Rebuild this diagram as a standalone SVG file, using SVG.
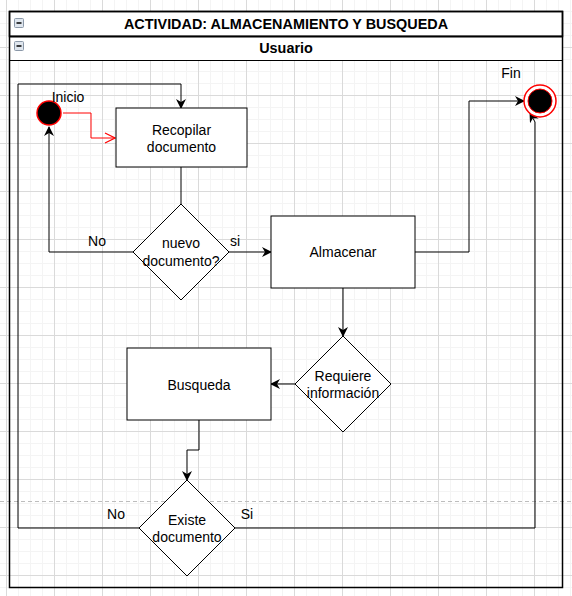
<svg xmlns="http://www.w3.org/2000/svg" width="572" height="596" viewBox="0 0 572 596">
<defs>
<pattern id="minor" x="6" y="-1" width="12" height="12" patternUnits="userSpaceOnUse">
<path d="M0.5,0 V12 M0,0.5 H12" stroke="#f4f4f4" stroke-width="1" fill="none"/>
</pattern>
<pattern id="major" x="6" y="-1" width="48" height="48" patternUnits="userSpaceOnUse">
<path d="M0.5,0 V48 M0,0.5 H48" stroke="#dadada" stroke-width="1" fill="none"/>
</pattern>
<marker id="arr" viewBox="0 0 10 10" refX="9" refY="5" markerWidth="10" markerHeight="10" markerUnits="userSpaceOnUse" orient="auto">
<path d="M0,0 L10,5 L0,10 L3,5 z" fill="#000"/>
</marker>
<marker id="open" viewBox="0 0 12 12" refX="11" refY="6" markerWidth="12" markerHeight="12" markerUnits="userSpaceOnUse" orient="auto">
<path d="M1,1 L11,6 L1,11" fill="none" stroke="#ff0000" stroke-width="1.2"/>
</marker>
</defs>
<style>
text{font-family:"Liberation Sans",Arial,sans-serif;font-size:14px;fill:#000}
.c{text-anchor:middle}
.b{font-weight:bold}
.t{font-size:14.4px}
.node{fill:#fff;stroke:#000;stroke-width:1}
.edge{fill:none;stroke:#000;stroke-width:1}
.icon{fill:#dfe6ee;stroke:#8b98a8;stroke-width:1}
</style>
<rect width="572" height="596" fill="#fff"/>
<rect width="572" height="596" fill="url(#minor)"/>
<rect width="572" height="596" fill="url(#major)"/>
<line x1="0" y1="501.5" x2="572" y2="501.5" stroke="#bdbdbd" stroke-dasharray="4,3"/>

<g id="pool">
<rect x="9.5" y="11.5" width="553" height="25" fill="#fff" stroke="#000" stroke-width="1.5"/>
<rect x="9.5" y="36.5" width="553" height="24" fill="#fff" stroke="#000" stroke-width="1"/>
<rect x="9.5" y="11.5" width="553" height="576" fill="none" stroke="#000" stroke-width="1.5"/>
<line x1="9.5" y1="36.5" x2="562.5" y2="36.5" stroke="#000" stroke-width="2"/>
<rect class="icon" x="14.5" y="18.5" width="9" height="9" rx="1"/>
<line x1="16.5" y1="23" x2="21.5" y2="23" stroke="#000" stroke-width="1.5"/>
<rect class="icon" x="14.5" y="41.5" width="9" height="9" rx="1"/>
<line x1="16.5" y1="46" x2="21.5" y2="46" stroke="#000" stroke-width="1.5"/>
<text class="c b t" x="286" y="29">ACTIVIDAD: ALMACENAMIENTO Y BUSQUEDA</text>
<text class="c b t" x="286" y="53">Usuario</text>
</g>

<g id="connectors">
<path d="M63,113 H91 V138 H115" fill="none" stroke="#ff0000" stroke-width="1" marker-end="url(#open)"/>
<path class="edge" d="M181,167 V204"/>
<path class="edge" d="M133,252 H49 V127" marker-end="url(#arr)"/>
<path class="edge" d="M229,252 H271" marker-end="url(#arr)"/>
<path class="edge" d="M415,252 H469 V101 H524" marker-end="url(#arr)"/>
<path class="edge" d="M343,288 V336" marker-end="url(#arr)"/>
<path class="edge" d="M295,384 H271" marker-end="url(#arr)"/>
<path class="edge" d="M199,420 V450 H187 V480" marker-end="url(#arr)"/>
<path class="edge" d="M139,528 H18 V84 H181 V108" marker-end="url(#arr)"/>
<path class="edge" d="M235,528 H535 V122 L530,113" marker-end="url(#arr)"/>
<text x="97" y="246" class="c">No</text>
<text x="235" y="246" class="c">si</text>
<text x="116" y="519" class="c">No</text>
<text x="247" y="519" class="c">Si</text>
</g>

<g id="inicio">
<circle cx="49" cy="113" r="12" fill="#000" stroke="#ff0000" stroke-width="1.5"/>
<text x="68" y="102" class="c">Inicio</text>
</g>

<g id="recopilar">
<rect class="node" x="116" y="108" width="131" height="59"/>
<text class="c" x="181.5" y="135">Recopilar</text>
<text class="c" x="181.5" y="152">documento</text>
</g>

<g id="nuevo">
<polygon class="node" points="181,204 229,252 181,300 133,252"/>
<text class="c" x="181" y="248">nuevo</text>
<text class="c" x="181" y="266">documento?</text>
</g>

<g id="almacenar">
<rect class="node" x="271" y="216" width="144" height="72"/>
<text class="c" x="343" y="257">Almacenar</text>
</g>

<g id="fin">
<circle cx="540" cy="101" r="16" fill="#fff" stroke="#ff0000" stroke-width="1.5"/>
<circle cx="540" cy="101" r="12" fill="#000" stroke="#ff0000" stroke-width="1"/>
<text x="511" y="78" class="c">Fin</text>
</g>

<g id="requiere">
<polygon class="node" points="343,336 391,384 343,432 295,384"/>
<text class="c" x="343" y="381">Requiere</text>
<text class="c" x="343" y="398">información</text>
</g>

<g id="busqueda">
<rect class="node" x="127" y="348" width="144" height="72"/>
<text class="c" x="199" y="390">Busqueda</text>
</g>

<g id="existe">
<polygon class="node" points="187,480 235,528 187,576 139,528"/>
<text class="c" x="187" y="525">Existe</text>
<text class="c" x="187" y="542">documento</text>
</g>
</svg>
